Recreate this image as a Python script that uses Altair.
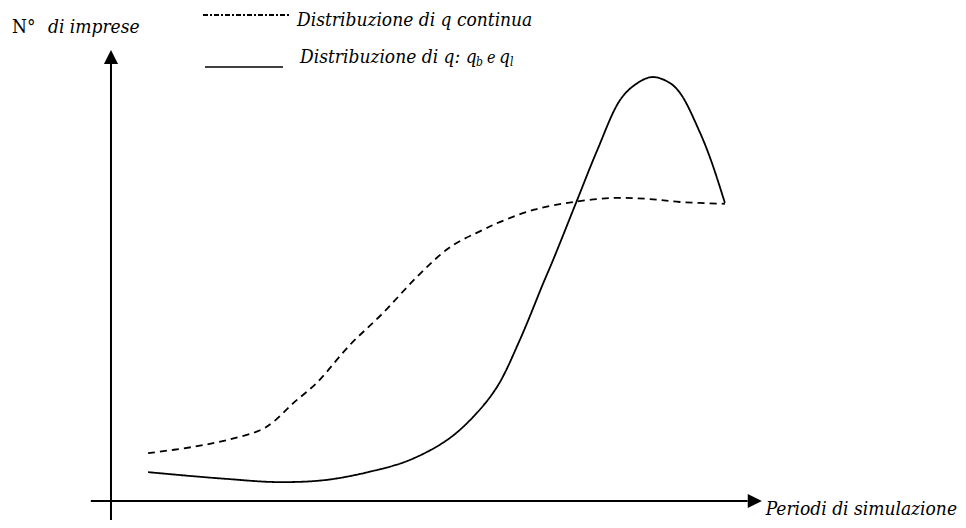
import altair as alt
import pandas as pd

# Curve values (x: simulation period units 0-100, y: number of firms units 0-100)
dashed_x = [5.7, 12.6, 17.8, 22.9, 24.9, 28.0, 31.6, 36.7, 41.8, 47.0, 52.1, 57.1, 59.8, 65.0, 71.0, 77.1, 82.3, 87.4, 94.3]
dashed_y = [10.6, 12.0, 13.5, 15.7, 17.5, 21.7, 26.2, 34.6, 41.7, 49.7, 56.3, 60.1, 61.9, 64.6, 66.3, 67.2, 67.0, 66.3, 65.9]

solid_x = [5.7, 12.6, 17.8, 25.5, 33.2, 40.9, 45.9, 51.6, 55.6, 59.3, 62.8, 66.4, 67.9, 71.6, 74.7, 78.2, 80.6, 83.1, 85.6, 87.4, 90.5, 92.3, 94.3]
solid_y = [6.4, 5.5, 4.9, 4.2, 4.7, 6.9, 9.1, 13.5, 18.6, 25.3, 35.7, 48.3, 53.4, 66.7, 77.8, 88.9, 92.4, 94.0, 92.9, 90.5, 81.6, 75.0, 66.1]

series_names = ["Distribuzione di q continua", "Distribuzione di q: qb e ql"]

y_title = ["N°", "di imprese"]
x_title = "Periodi di simulazione"

df = pd.concat([
    pd.DataFrame({"x": dashed_x, "y": dashed_y, "serie": series_names[0], "o": range(len(dashed_x))}),
    pd.DataFrame({"x": solid_x, "y": solid_y, "serie": series_names[1], "o": range(len(solid_x))}),
])

FONT = "DejaVu Serif Condensed"
FS = 19

xs = alt.Scale(domain=[-15.82, 130.11], nice=False, zero=False)
ys = alt.Scale(domain=[-4.21, 109.31], nice=False, zero=False)

curves = alt.Chart(df).mark_line(interpolate="catmull-rom", color="black", strokeWidth=1.8).encode(
    x=alt.X("x:Q", scale=xs, axis=None),
    y=alt.Y("y:Q", scale=ys, axis=None),
    order="o:Q",
    strokeDash=alt.StrokeDash("serie:N", scale=alt.Scale(domain=series_names, range=[[7, 5], [1, 0]]), legend=None),
)

# coordinate axes (origin at 0,0) with arrow heads
axes_df = pd.DataFrame({"x": [-3.1, 0.0], "x2": [97.8, 0.0], "y": [0.0, -4.2], "y2": [0.0, 97.0]})
axes = alt.Chart(axes_df).mark_rule(color="black", strokeWidth=2).encode(
    x=alt.X("x:Q", scale=xs), x2="x2:Q", y=alt.Y("y:Q", scale=ys), y2="y2:Q"
)

arrow_df = pd.DataFrame({
    "x": [0.0, 98.9], "y": [98.45, 0.0],
    "shape": ["M0,-1L1,1L-1,1Z", "M-1,-1L1,0L-1,1Z"],
})
arrows = alt.Chart(arrow_df).mark_point(filled=True, color="black", opacity=1, size=200).encode(
    x=alt.X("x:Q", scale=xs), y=alt.Y("y:Q", scale=ys), shape=alt.Shape("shape:N", scale=None)
)

one = pd.DataFrame({"a": [0]})


def txt(t, x, y, size=FS, style="italic", align="left"):
    return alt.Chart(one).mark_text(
        text=t, font=FONT, fontSize=size, fontStyle=style, align=align, baseline="alphabetic", color="black"
    ).encode(x=alt.value(x), y=alt.value(y))


def seg(x1, x2, y, dash=None, width=1.6):
    kw = dict(color="black", strokeWidth=width)
    if dash:
        kw["strokeDash"] = dash
    return alt.Chart(one).mark_rule(**kw).encode(x=alt.value(x1), x2=alt.value(x2), y=alt.value(y))


labels = [
    txt(y_title[0], 4, 25, style="normal"),
    txt(y_title[1], 40, 25),
    txt(x_title, 949, 507, align="right"),
    seg(195, 281, 7, [5, 2, 2, 2], width=2),
    txt(series_names[0], 289, 18),
    seg(197, 275, 59),
    txt("Distribuzione di q: q", 292, 55),
    txt("b", 468, 58, size=12),
    txt("e", 479, 55, size=16),
    txt("q", 491, 55),
    txt("l", 502, 58, size=12),
]

chart = alt.layer(curves, axes, arrows, *labels).properties(
    width=950, height=512, padding=0, autosize=alt.AutoSizeParams(type="none")
).configure_view(stroke=None)

chart.save("out.html", embed_options={"renderer": "svg", "actions": False})
